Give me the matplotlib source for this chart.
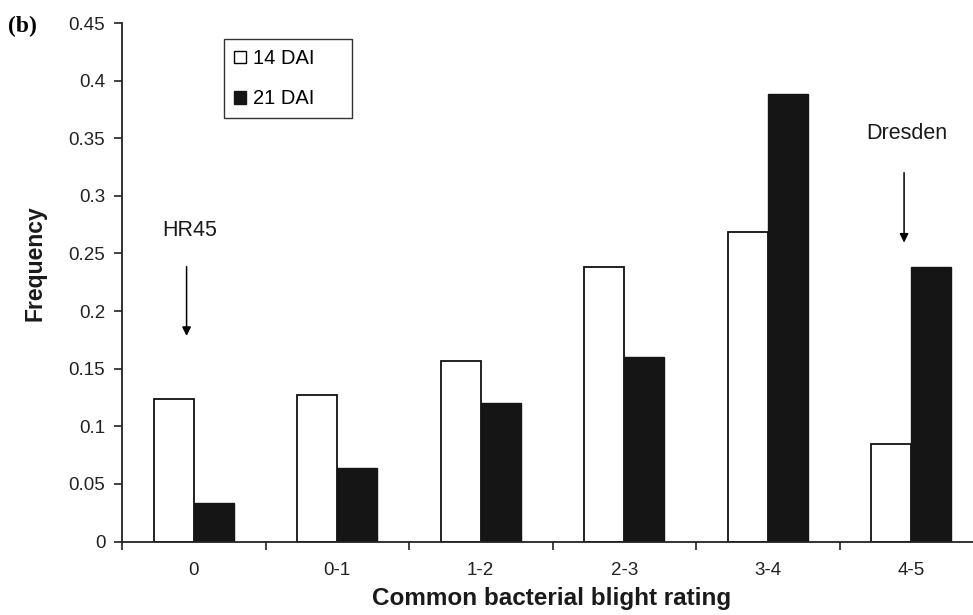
import matplotlib
matplotlib.use('Agg')
import matplotlib.pyplot as plt
import matplotlib.patches as mpatches
import numpy as np

plt.rcParams['font.family'] = ['Liberation Sans', 'DejaVu Sans']

# ── data ────────────────────────────────────────────
ratings = ['0', '0-1', '1-2', '2-3', '3-4', '4-5']
dai14 = [0.124, 0.127, 0.157, 0.238, 0.269, 0.085]
dai21 = [0.033, 0.064, 0.120, 0.160, 0.388, 0.238]
yticks = [0, 0.05, 0.1, 0.15, 0.2, 0.25, 0.3, 0.35, 0.4, 0.45]
ytick_labels = ['0', '0.05', '0.1', '0.15', '0.2', '0.25', '0.3', '0.35', '0.4', '0.45']

W, H = 973, 615
fig = plt.figure(figsize=(W / 100, H / 100), dpi=100)
# axis runs a bit past the right edge, like the cropped original
ax = fig.add_axes([122 / W, 1 - 541.5 / H, 861 / W, 518.5 / H])

x = np.arange(len(ratings))
bw = 0.28
ax.bar(x - bw / 2, dai14, bw, color='white', edgecolor='#111111', linewidth=1.3, label='14 DAI')
ax.bar(x + bw / 2, dai21, bw, color='#151515', edgecolor='#151515', linewidth=1.0, label='21 DAI')

ax.set_xlim(-0.5, len(ratings) - 0.5)
ax.set_ylim(0, 0.45)
ax.set_yticks(yticks)
ax.set_yticklabels(ytick_labels, fontsize=13.5, color='#222222')

# boundary ticks, labels at centres
ax.set_xticks(np.arange(len(ratings) + 1) - 0.5)
ax.set_xticklabels([])
ax.set_xticks(x, minor=True)
ax.set_xticklabels(ratings, minor=True, fontsize=13.5, color='#222222')
ax.tick_params(axis='x', which='minor', length=0, pad=15)
ax.tick_params(axis='y', pad=6)
ax.tick_params(axis='both', which='major', direction='out', length=6, width=1.2, color='#222222')

for s in ['top', 'right']:
    ax.spines[s].set_visible(False)
for s in ['left', 'bottom']:
    ax.spines[s].set_linewidth(1.3)
    ax.spines[s].set_color('#222222')

fig.text(35 / W, 1 - 263 / H, 'Frequency', fontsize=16.5, fontweight='bold',
         rotation=90, ha='center', va='center', color='#1a1a1a')
fig.text(552 / W, 1 - 599 / H, 'Common bacterial blight rating', fontsize=17.5,
         fontweight='bold', ha='center', va='center', color='#1a1a1a')

# annotations
ax.annotate('', xy=(-0.05, 0.176), xytext=(-0.05, 0.241),
            arrowprops=dict(arrowstyle='-|>', color='black', lw=1.1, mutation_scale=13))
ax.text(-0.028, 0.27, 'HR45', fontsize=15.5, ha='center', va='center', color='#1a1a1a')
ax.annotate('', xy=(4.95, 0.257), xytext=(4.95, 0.3225),
            arrowprops=dict(arrowstyle='-|>', color='black', lw=1.1, mutation_scale=13))
ax.text(4.97, 0.354, 'Dresden', fontsize=15.5, ha='center', va='center', color='#1a1a1a')

handles = [mpatches.Patch(facecolor='white', edgecolor='black', linewidth=1.0, label='14 DAI'),
           mpatches.Patch(facecolor='#151515', edgecolor='#151515', label='21 DAI')]
leg = fig.legend(handles=handles, loc='upper left',
                 bbox_to_anchor=(224 / W, 1 - 117 / H, 128 / W, 78 / H), mode='expand',
                 fontsize=14.5, frameon=True, fancybox=False, handlelength=0.6, handleheight=0.6,
                 handletextpad=0.35, borderpad=0.5, labelspacing=1.05, borderaxespad=0)
leg.get_frame().set_edgecolor('black')
leg.get_frame().set_linewidth(1.0)

fig.text(8 / W, 1 - 26 / H, '(b)', fontsize=17, fontweight='bold',
         family=['Liberation Serif', 'DejaVu Serif'], ha='left', va='center')

fig.savefig('out.png', dpi=100, facecolor='white')
